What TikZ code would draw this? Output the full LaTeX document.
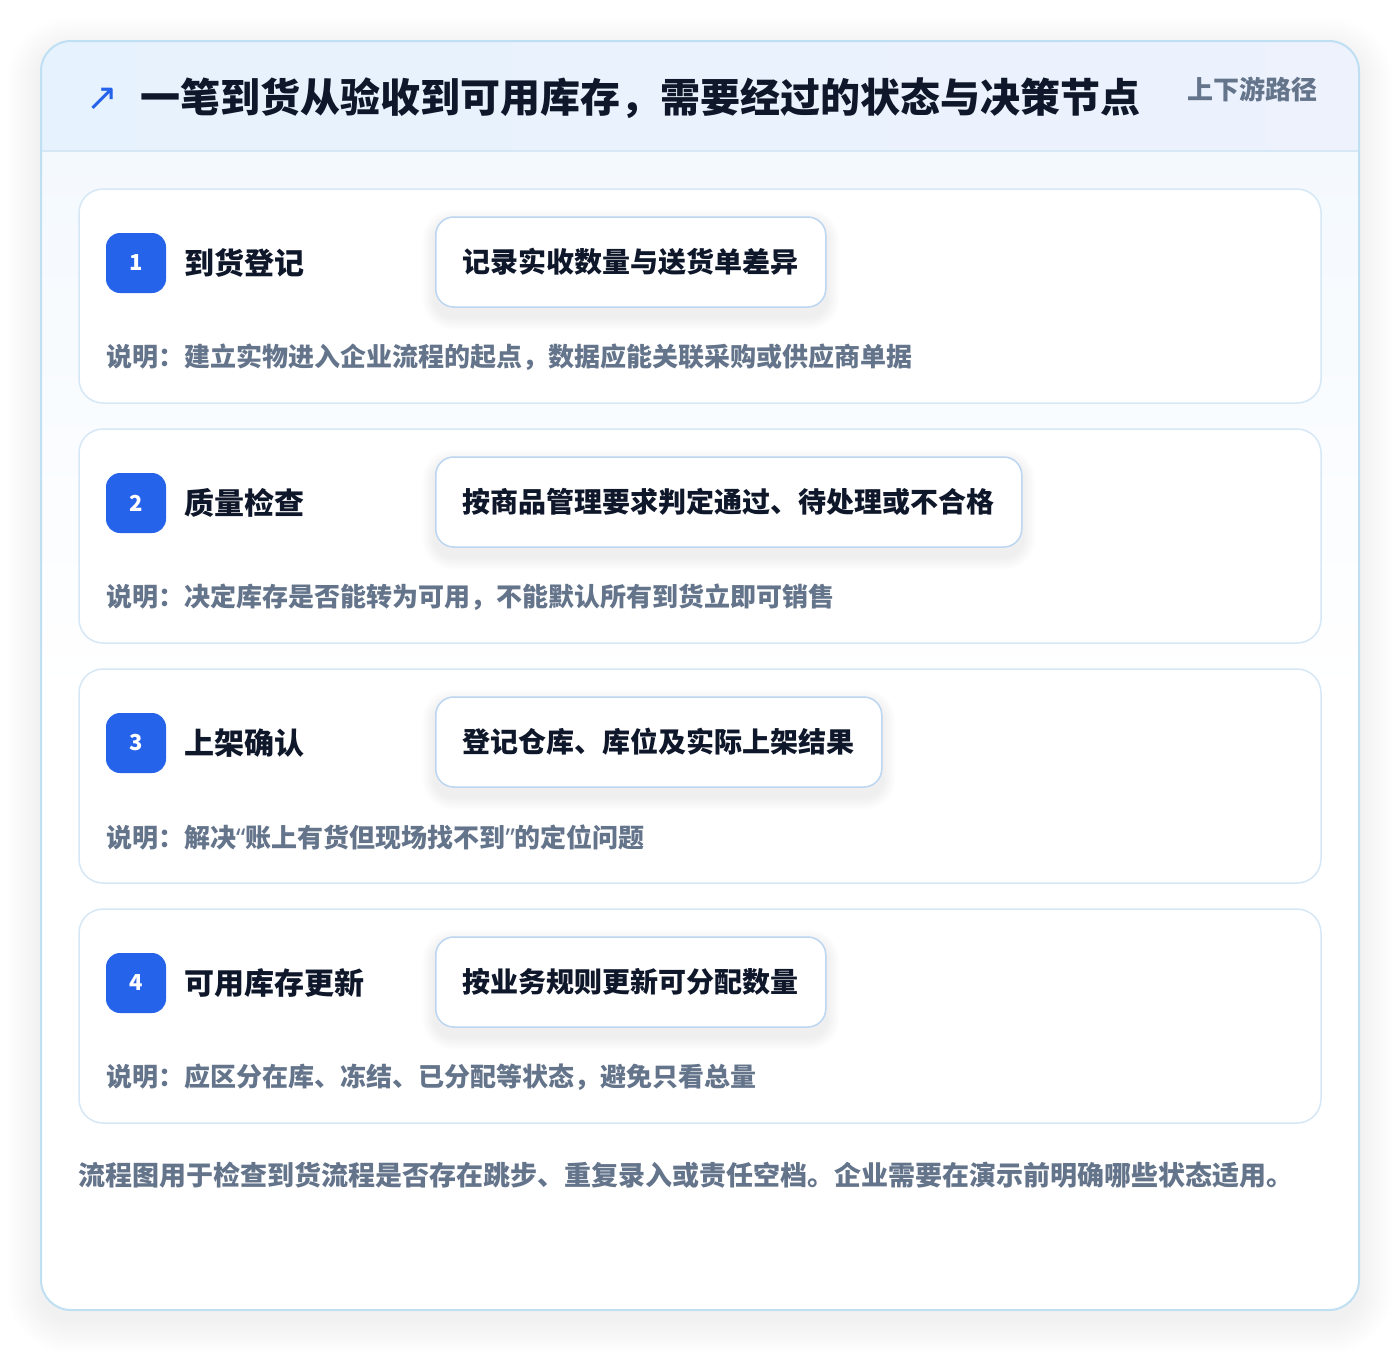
\documentclass[tikz,border=0pt]{standalone}
\usepackage{fontspec}
\setmainfont{Noto Sans CJK SC}
\newfontfamily\symfont{DejaVu Sans}
\newfontfamily\quotefont{Noto Sans}
\usetikzlibrary{calc}
\definecolor{badgeblue}{HTML}{2563EB}
\definecolor{ink}{HTML}{0F172A}
\definecolor{muted}{HTML}{64748B}
\definecolor{outerline}{HTML}{BFE0F3}
\definecolor{cardline}{HTML}{D6E7F6}
\definecolor{boxline}{HTML}{BCD6F2}
\definecolor{headA}{HTML}{E6F2FD}
\definecolor{headB}{HTML}{EDF2FD}
\definecolor{bodyA}{HTML}{F4F9FE}
\definecolor{shadowcol}{HTML}{1E293B}
\pgfdeclarelayer{bg}
\pgfdeclarelayer{cards}
\pgfdeclarelayer{shad}
\pgfsetlayers{bg,cards,shad,main}
\newcommand{\myLQ}{{\quotefont “}}
\newcommand{\myRQ}{{\quotefont ”}}
\tikzset{
  card/.style={draw=cardline,line width=1.5pt,rounded corners=24pt,fill=white},
  badge/.style={fill=badgeblue,rounded corners=14pt,minimum width=60pt,minimum height=60pt,inner sep=0pt,text=white,font=\fontsize{22}{22}\selectfont\bfseries},
  steptitle/.style={anchor=west,inner sep=0pt,text=ink,font=\fontsize{30}{30}\selectfont\bfseries},
  actbox/.style={draw=boxline,line width=1.5pt,rounded corners=18pt,fill=white,anchor=west,minimum height=90pt,inner xsep=27pt,text=ink,font=\fontsize{28}{28}\selectfont\bfseries},
  desc/.style={anchor=west,inner sep=0pt,text=muted,font=\fontsize{26}{26}\selectfont\bfseries},
  softshade/.style={fill=shadowcol,opacity=#1,draw=none},
}
\begin{document}
\begin{tikzpicture}[x=1pt,y=-1pt]
\useasboundingbox (0,0) rectangle (1400,1352);
\begin{pgfonlayer}{bg}
\fill[white] (0,0) rectangle (1400,1352);
% soft shadow of outer card
\foreach \i in {1,...,14}{
  \pgfmathsetmacro{\e}{\i*2.4}
  \pgfmathsetmacro{\r}{30+\e}
  \fill[softshade=0.0055,rounded corners=\r pt] (41-\e,41-\e+10) rectangle (1359+\e,1310+\e+10);
}
\fill[white,rounded corners=30pt] (41,41) rectangle (1359,1310);
\begin{scope}
\clip[rounded corners=30pt] (41,41) rectangle (1359,1310);
\shade[top color=bodyA,bottom color=white] (41,151) rectangle (1359,700);
\shade[left color=headA,right color=headB] (41,41) rectangle (1359,151);
\draw[cardline,line width=1.5pt] (41,151) -- (1359,151);
\end{scope}
\draw[outerline,line width=2pt,rounded corners=30pt] (41,41) rectangle (1359,1310);
\end{pgfonlayer}
% header
\node[anchor=center,inner sep=0pt,text=badgeblue,font=\symfont\fontsize{38}{38}\selectfont] (icon) at (102,99) {↗};
\node[anchor=west,inner sep=0pt,text=ink,font=\fontsize{40}{40}\selectfont\bfseries] (title) at (140,98) {一笔到货从验收到可用库存，需要经过的状态与决策节点};
\node[anchor=east,inner sep=0pt,text=muted,font=\fontsize{26}{26}\selectfont\bfseries] (tag) at (1318,89) {上下游路径};
% steps
\foreach \n/\y/\t/\b/\d in {
 1/189/到货登记/记录实收数量与送货单差异/说明：建立实物进入企业流程的起点，数据应能关联采购或供应商单据,
 2/429/质量检查/按商品管理要求判定通过、待处理或不合格/说明：决定库存是否能转为可用，不能默认所有到货立即可销售,
 3/669/上架确认/登记仓库、库位及实际上架结果/说明：解决\myLQ 账上有货但现场找不到\myRQ 的定位问题,
 4/909/可用库存更新/按业务规则更新可分配数量/说明：应区分在库、冻结、已分配等状态，避免只看总量}{
  \begin{pgfonlayer}{cards}
  \draw[card] (79,\y) rectangle (1321,\y+214);
  \end{pgfonlayer}
  \node[badge] (badge\n) at (136,\y+74) {\n};
  \node[steptitle] (stitle\n) at (184,\y+74) {\t};
  \node[actbox] (act\n) at (435,\y+73) {\b};
  \node[desc] (desc\n) at (106,\y+168) {\d};
  \begin{pgfonlayer}{shad}
  \foreach \i in {1,...,8}{
    \pgfmathsetmacro{\e}{\i*1.6}
    \pgfmathsetmacro{\r}{18+\e}
    \fill[softshade=0.006,rounded corners=\r pt] ($(act\n.south west)+(-\e,\e+9)$) rectangle ($(act\n.north east)+(\e,6-\e)$);
  }
  \end{pgfonlayer}
}
% footer
\node[anchor=west,inner sep=0pt,text=muted,font=\fontsize{27}{27}\selectfont\bfseries] (footer) at (78,1175) {流程图用于检查到货流程是否存在跳步、重复录入或责任空档。企业需要在演示前明确哪些状态适用。};
\end{tikzpicture}
\end{document}
